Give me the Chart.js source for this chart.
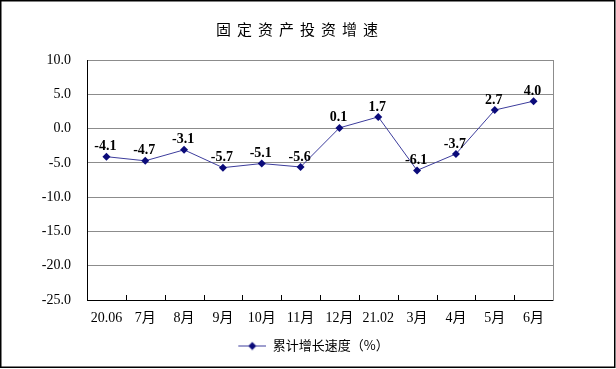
<!DOCTYPE html>
<html><head><meta charset="utf-8">
<script src="https://cdn.jsdelivr.net/npm/chart.js@4/dist/chart.umd.min.js"></script>
<style>html,body{margin:0;padding:0;background:#fff}#wrap{width:616px;height:369px;position:relative}canvas{display:block}</style>
</head><body><div id="wrap"><canvas id="c" width="616" height="369"></canvas></div>
<script>
const titleText = '固定资产投资增速';
const categories = ['20.06', '7月', '8月', '9月', '10月', '11月', '12月', '21.02', '3月', '4月', '5月', '6月'];
const growth = [-4.1, -4.7, -3.1, -5.7, -5.1, -5.6, 0.1, 1.7, -6.1, -3.7, 2.7, 4.0];
const seriesName = '累计增长速度（%）';
const yMin = -25, yMax = 10, yStep = 5;

const lineColor = '#3c3c9c';
const pointColor = '#0b0b7a';
const gridColor = '#8c8c8c';
const serif = '"Liberation Serif", "Noto Sans CJK SC", serif';
const cjk = '"Noto Sans CJK SC", sans-serif';

// legend marker: line with diamond (left part transparent to shift the item)
const marker = document.createElement('canvas');
marker.width = 39; marker.height = 10;
(function(){
  const g = marker.getContext('2d');
  g.strokeStyle = lineColor; g.lineWidth = 1;
  g.beginPath(); g.moveTo(11, 5.5); g.lineTo(39, 5.5); g.stroke();
  g.fillStyle = pointColor;
  g.beginPath(); g.moveTo(25, 1.5); g.lineTo(29, 5.5); g.lineTo(25, 9.5); g.lineTo(21, 5.5); g.closePath(); g.fill();
})();

const decor = {
  id: 'decor',
  afterDraw(chart) {
    const ctx = chart.ctx, a = chart.chartArea, xs = chart.scales.x;
    ctx.save();
    // inner tick marks at category boundaries
    ctx.strokeStyle = '#000'; ctx.lineWidth = 1;
    const n = categories.length;
    for (let i = 1; i < n; i++) {
      const px = Math.round((xs.getPixelForValue(i - 1) + xs.getPixelForValue(i)) / 2) + 0.5;
      ctx.beginPath(); ctx.moveTo(px, a.bottom); ctx.lineTo(px, a.bottom - 5); ctx.stroke();
    }
    // outer frame
    ctx.strokeStyle = '#000'; ctx.lineWidth = 1.5;
    ctx.strokeRect(0.75, 0.75, 614, 366.5);
    // title
    ctx.fillStyle = '#000';
    ctx.font = '15px ' + cjk;
    ctx.textBaseline = 'middle';
    ctx.textAlign = 'left';
    if ('letterSpacing' in ctx) ctx.letterSpacing = '6px';
    const w = ctx.measureText(titleText).width;
    ctx.fillText(titleText, 297 - (w - 6) / 2, 29);
    ctx.restore();
  }
};

const dataLabels = {
  id: 'dataLabels',
  afterDatasetsDraw(chart) {
    const ctx = chart.ctx;
    const meta = chart.getDatasetMeta(0);
    ctx.save();
    ctx.font = 'bold 14px ' + serif;
    ctx.fillStyle = '#000';
    ctx.textAlign = 'center';
    ctx.textBaseline = 'bottom';
    meta.data.forEach((pt, i) => {
      ctx.fillText(growth[i].toFixed(1), pt.x - 1, pt.y - 3);
    });
    ctx.restore();
  }
};

new Chart(document.getElementById('c'), {
  type: 'line',
  data: {
    labels: categories,
    datasets: [{
      label: seriesName,
      data: growth,
      borderColor: lineColor,
      borderWidth: 1,
      pointStyle: 'rectRot',
      pointRadius: 4,
      pointBackgroundColor: pointColor,
      pointBorderColor: pointColor,
      pointBorderWidth: 0,
      tension: 0,
      clip: false
    }]
  },
  options: {
    responsive: false,
    animation: false,
    events: [],
    layout: { padding: { top: 60, left: 0, right: 0, bottom: 7 } },
    plugins: {
      title: { display: false },
      tooltip: { enabled: false },
      legend: {
        display: true,
        position: 'bottom',
        labels: {
          usePointStyle: true,
          pointStyleWidth: 39,
          padding: 10,
          color: '#000',
          font: { family: cjk, size: 13 },
          generateLabels: (chart) => [{
            text: seriesName,
            pointStyle: marker,
            fillStyle: pointColor,
            strokeStyle: pointColor,
            lineWidth: 0,
            hidden: false,
            datasetIndex: 0
          }]
        }
      }
    },
    scales: {
      x: {
        type: 'category',
        offset: true,
        grid: { display: false, drawTicks: false, offset: true },
        border: { display: true, color: '#000', width: 1 },
        ticks: { color: '#000', font: { family: serif, size: 14 }, padding: 10, maxRotation: 0, autoSkip: false },
        afterFit: (s) => { s.height = 29; }
      },
      y: {
        min: yMin, max: yMax,
        grid: { color: gridColor, drawTicks: false, lineWidth: 1 },
        border: { display: true, color: '#000', width: 1 },
        ticks: {
          stepSize: yStep, color: '#000', padding: 16,
          font: { family: serif, size: 14 },
          callback: (v) => Number(v).toFixed(1)
        },
        afterFit: (s) => { s.width = 87; }
      },
      y2: {
        position: 'right',
        min: 0, max: 1,
        grid: { display: false, drawTicks: false },
        border: { display: true, color: gridColor, width: 1 },
        ticks: { display: false },
        afterFit: (s) => { s.width = 63; }
      }
    }
  },
  plugins: [decor, dataLabels]
});
</script>
</body></html>
